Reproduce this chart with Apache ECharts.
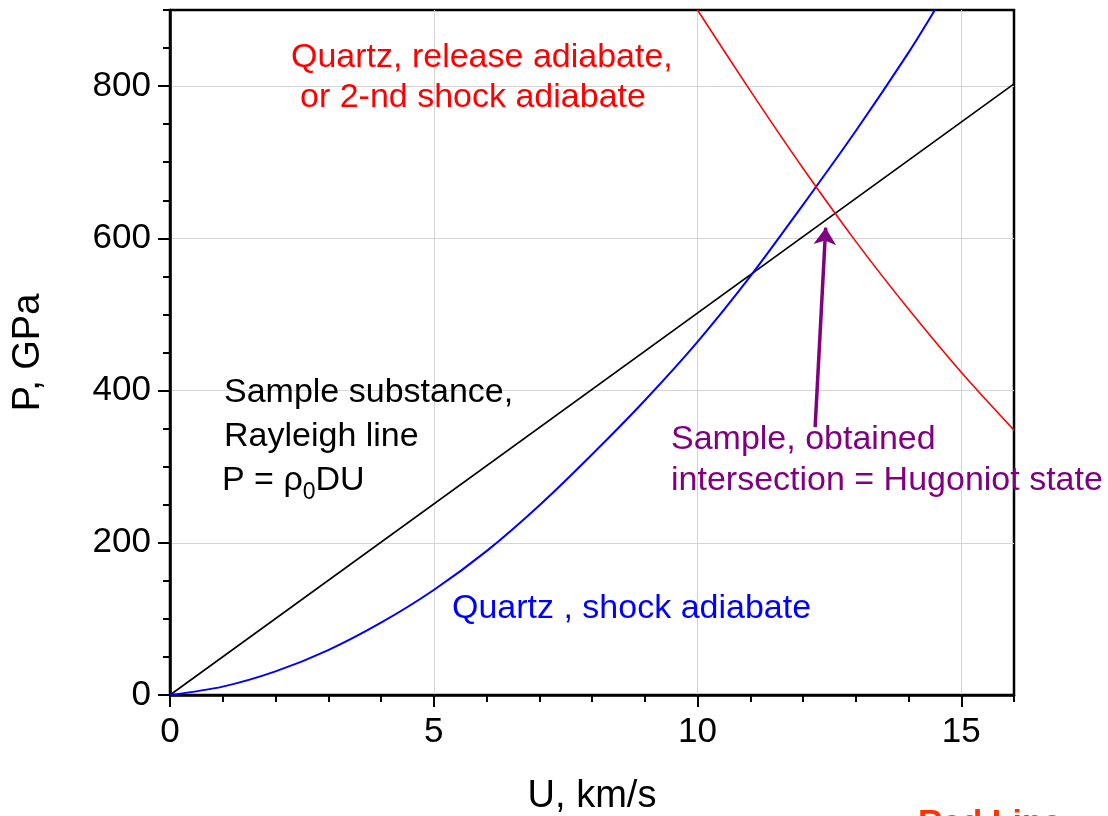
<!DOCTYPE html>
<html><head><meta charset="utf-8">
<script src="https://cdn.jsdelivr.net/npm/echarts@6/dist/echarts.min.js"></script>
<style>html,body{margin:0;padding:0;background:#fff}#c{width:1108px;height:816px}</style>
</head><body><div id="c"></div>
<script>
const FONT = "'Liberation Sans', Arial, Helvetica, sans-serif";

// tick values
const xMajorTicks = [0, 5, 10, 15];
const xMinorTicks = [1, 2, 3, 4, 6, 7, 8, 9, 11, 12, 13, 14, 16];
const yMajorTicks = [0, 200, 400, 600, 800];
const yMinorTicks = [50, 100, 150, 250, 300, 350, 450, 500, 550, 650, 700, 750, 850, 900];

// Quartz, shock adiabate (blue)
const quartzShockU = [0, 1, 2, 3, 4, 5, 6, 7, 8, 9, 10, 11, 12, 13, 14, 14.5];
const quartzShockP = [0, 11, 31, 59, 95, 138, 189, 249, 316, 387, 464, 550, 644, 741, 844, 900];

// Quartz, release adiabate (red)
const quartzReleaseU = [10, 11, 12, 13, 14, 15, 16];
const quartzReleaseP = [900, 794, 692, 596, 507, 424, 348];

// Sample Rayleigh line (black)
const rayleighU = [0, 16];
const rayleighP = [0, 803];

// Arrow pointing to Hugoniot state (purple)
const arrowU = [12.23, 12.43];
const arrowP = [352, 614];

const zip = (a, b) => a.map((v, i) => [v, b[i]]);

const chart = echarts.init(document.getElementById('c'), null, {renderer: 'canvas'});

const labelStyle = {fontFamily: FONT, fontSize: 35, color: '#000'};

chart.setOption({
  animation: false,
  backgroundColor: '#fff',
  grid: {left: 170, right: 94, top: 10, bottom: 121, containLabel: false, outerBoundsMode: 'none',
         show: true, borderColor: '#000', borderWidth: 2.5, backgroundColor: 'transparent'},
  xAxis: [{
    type: 'value', min: 0, max: 16, interval: 5, position: 'bottom',
    name: 'U, km/s', nameLocation: 'middle', nameGap: 83,
    nameTextStyle: {fontFamily: FONT, fontSize: 38, color: '#000'},
    axisLine: {show: true, lineStyle: {color: '#000', width: 2.5}},
    axisTick: {show: true, customValues: xMajorTicks, length: 12, lineStyle: {color: '#000', width: 2}},
    axisLabel: Object.assign({customValues: xMajorTicks, margin: 20}, labelStyle),
    splitLine: {show: true, lineStyle: {color: '#d4d4d4', width: 1}}
  }, {
    type: 'value', min: 0, max: 16, position: 'bottom',
    axisLine: {show: false},
    axisTick: {show: true, customValues: xMinorTicks, length: 7, lineStyle: {color: '#000', width: 2}},
    axisLabel: {show: false},
    splitLine: {show: false}
  }],
  yAxis: [{
    type: 'value', min: 0, max: 900, interval: 200, position: 'left',
    name: 'P, GPa', nameLocation: 'middle', nameGap: 122,
    nameTextStyle: {fontFamily: FONT, fontSize: 38, color: '#000'},
    axisLine: {show: true, lineStyle: {color: '#000', width: 2.5}},
    axisTick: {show: true, customValues: yMajorTicks, length: 12, lineStyle: {color: '#000', width: 2}},
    axisLabel: Object.assign({customValues: yMajorTicks, margin: 19}, labelStyle),
    splitLine: {show: true, lineStyle: {color: '#d4d4d4', width: 1}}
  }, {
    type: 'value', min: 0, max: 900, position: 'left',
    axisLine: {show: false},
    axisTick: {show: true, customValues: yMinorTicks, length: 7, lineStyle: {color: '#000', width: 2}},
    axisLabel: {show: false},
    splitLine: {show: false}
  }],
  series: [
    {type: 'line', name: 'Rayleigh', data: zip(rayleighU, rayleighP), showSymbol: false, symbol: 'none',
     lineStyle: {color: '#000', width: 1.6}, clip: true, z: 3},
    {type: 'line', name: 'Quartz shock', data: zip(quartzShockU, quartzShockP), smooth: 0.3, showSymbol: false, symbol: 'none',
     lineStyle: {color: '#0000ff', width: 2}, clip: true, z: 3},
    {type: 'line', name: 'Quartz release', data: zip(quartzReleaseU, quartzReleaseP), smooth: 0.3, showSymbol: false, symbol: 'none',
     lineStyle: {color: '#ff0000', width: 1.6}, clip: true, z: 3},
    {type: 'lines', coordinateSystem: 'cartesian2d', z: 4,
     symbol: ['none', 'arrow'], symbolSize: 17,
     lineStyle: {color: '#800080', width: 3.5, opacity: 1},
     data: [{coords: zip(arrowU, arrowP)}]}
  ],
  graphic: [
    {type: 'text', x: 291, y: 58, z: 10, style: {text: 'Quartz, release adiabate,', fontFamily: FONT, fontSize: 34, fill: '#ff0000', align: 'left', verticalAlign: 'middle'}},
    {type: 'text', x: 300, y: 98, z: 10, style: {text: 'or 2-nd shock adiabate', fontFamily: FONT, fontSize: 34, fill: '#ff0000', align: 'left', verticalAlign: 'middle'}},
    {type: 'text', x: 224, y: 393, z: 10, style: {text: 'Sample substance,', fontFamily: FONT, fontSize: 34, fill: '#000', align: 'left', verticalAlign: 'middle'}},
    {type: 'text', x: 224, y: 437, z: 10, style: {text: 'Rayleigh line', fontFamily: FONT, fontSize: 34, fill: '#000', align: 'left', verticalAlign: 'middle'}},
    {type: 'text', x: 222, y: 481, z: 10, style: {text: '{m|P = ρ}{s|0}{m|DU}', align: 'left', verticalAlign: 'middle',
      rich: {m: {fontFamily: FONT, fontSize: 34, fill: '#000', lineHeight: 46}, s: {fontFamily: FONT, fontSize: 23, fill: '#000', lineHeight: 23, verticalAlign: 'bottom'}}}},
    {type: 'text', x: 452, y: 609, z: 10, style: {text: 'Quartz , shock adiabate', fontFamily: FONT, fontSize: 34, fill: '#0000ff', align: 'left', verticalAlign: 'middle'}},
    {type: 'text', x: 671, y: 440, z: 10, style: {text: 'Sample, obtained', fontFamily: FONT, fontSize: 34, fill: '#800080', align: 'left', verticalAlign: 'middle'}},
    {type: 'text', x: 671, y: 481, z: 10, style: {text: 'intersection = Hugoniot state', fontFamily: FONT, fontSize: 34, fill: '#800080', align: 'left', verticalAlign: 'middle'}},
    {type: 'text', x: 918, y: 807, z: 10, style: {text: 'Red Line', fontFamily: FONT, fontSize: 34, fontWeight: 'bold', fill: '#ff3300', align: 'left', verticalAlign: 'top'}}
  ]
});
</script>
</body></html>
